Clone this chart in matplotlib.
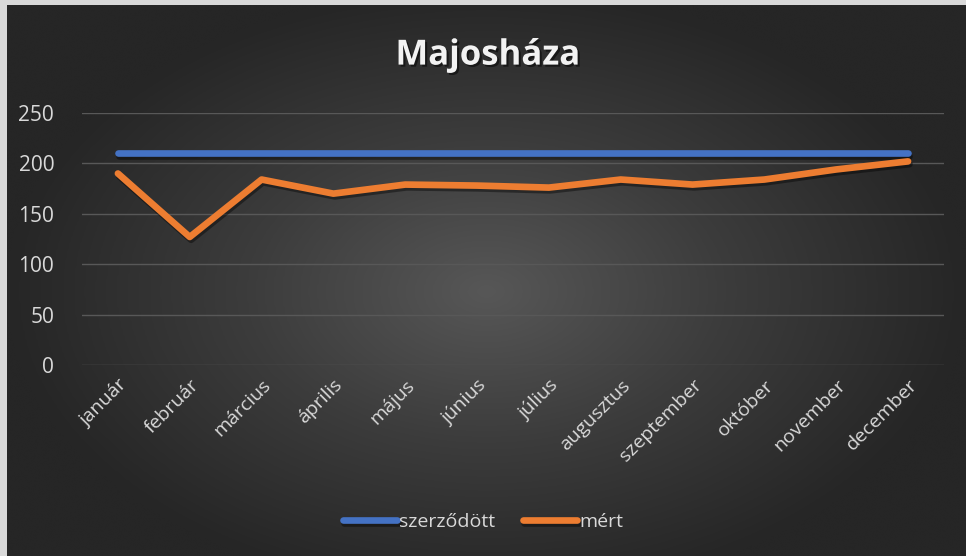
import numpy as np
import matplotlib
matplotlib.use("Agg")
import matplotlib.pyplot as plt
import matplotlib.patheffects as pe
from matplotlib.colors import LinearSegmentedColormap

# data
months = ["január", "február", "március", "április", "május", "június",
          "július", "augusztus", "szeptember", "október", "november",
          "december"]
contracted = [210] * 12
measured = [190, 127, 184, 170, 179, 178, 176, 184, 179, 184, 194, 202]
y_ticks = [0, 50, 100, 150, 200, 250]

TEXT = "#d9d9d9"
FONT = "Open Sans"

fig = plt.figure(figsize=(9.66, 5.56), dpi=100)
fig.patch.set_facecolor("#d9d9d9")

# dark radial background, lighter in the middle
bg = fig.add_axes([7 / 966, 0, 1 - 7 / 966, 1 - 5 / 556])
bg.set_axis_off()
yy, xx = np.mgrid[0:1:300j, 0:1:500j]
r = np.sqrt(((xx - 0.5) / 0.5) ** 2 + ((yy - 0.52) / 0.55) ** 2)
r = np.clip(r, 0, 1)
grad = LinearSegmentedColormap.from_list("bg", ["#575757", "#3c3c3c",
                                                 "#262626"])
bg.imshow(r, cmap=grad, vmin=0, vmax=1, extent=(0, 1, 0, 1),
          aspect="auto", interpolation="bicubic")

ax = fig.add_axes([82 / 966, 1 - 365 / 556, 862 / 966, 252 / 556])
ax.patch.set_alpha(0)
x = np.arange(len(months))

shadow = [pe.SimpleLineShadow(offset=(1, -2), shadow_color="black",
                              alpha=0.4), pe.Normal()]
ax.plot(x, contracted, color="#4472C4", lw=4.8, solid_capstyle="round",
        solid_joinstyle="round", label="szerződött", path_effects=shadow,
        zorder=3)
ax.plot(x, measured, color="#ED7D31", lw=4.8, solid_capstyle="round",
        solid_joinstyle="round", label="mért", path_effects=shadow,
        zorder=3)

ax.set_xlim(-0.5, 11.5)
ax.set_ylim(0, 250)
ax.set_yticks(y_ticks)
ax.yaxis.grid(True, color="#585858", lw=1)
ax.set_axisbelow(True)
for s in ax.spines.values():
    s.set_visible(False)
ax.tick_params(axis="both", length=0, colors=TEXT)
ax.tick_params(axis="y", pad=20)
for lab in ax.get_yticklabels():
    lab.set_fontfamily(FONT)
    lab.set_fontsize(15)

ax.set_xticks(x)
ax.set_xticklabels(months, rotation=45, ha="right", rotation_mode="anchor",
                   fontfamily=FONT, fontsize=14, color=TEXT)
ax.tick_params(axis="x", pad=8)

fig.text(0.505, 0.90, "Majosháza", ha="center", va="center",
         fontfamily=FONT, fontweight="bold", fontsize=25, color="#f2f2f2",
         path_effects=[pe.withSimplePatchShadow(offset=(1.5, -1.5),
                                                shadow_rgbFace="black",
                                                alpha=0.5)])

leg = fig.legend(loc="center", bbox_to_anchor=(0.5, 1 - 522 / 556), ncol=2,
                 frameon=False, handlelength=2.8, handletextpad=0.1,
                 columnspacing=1.4, prop={"family": FONT, "size": 14})
for t in leg.get_texts():
    t.set_color(TEXT)

fig.savefig("out.png", dpi=100, facecolor=fig.get_facecolor())
